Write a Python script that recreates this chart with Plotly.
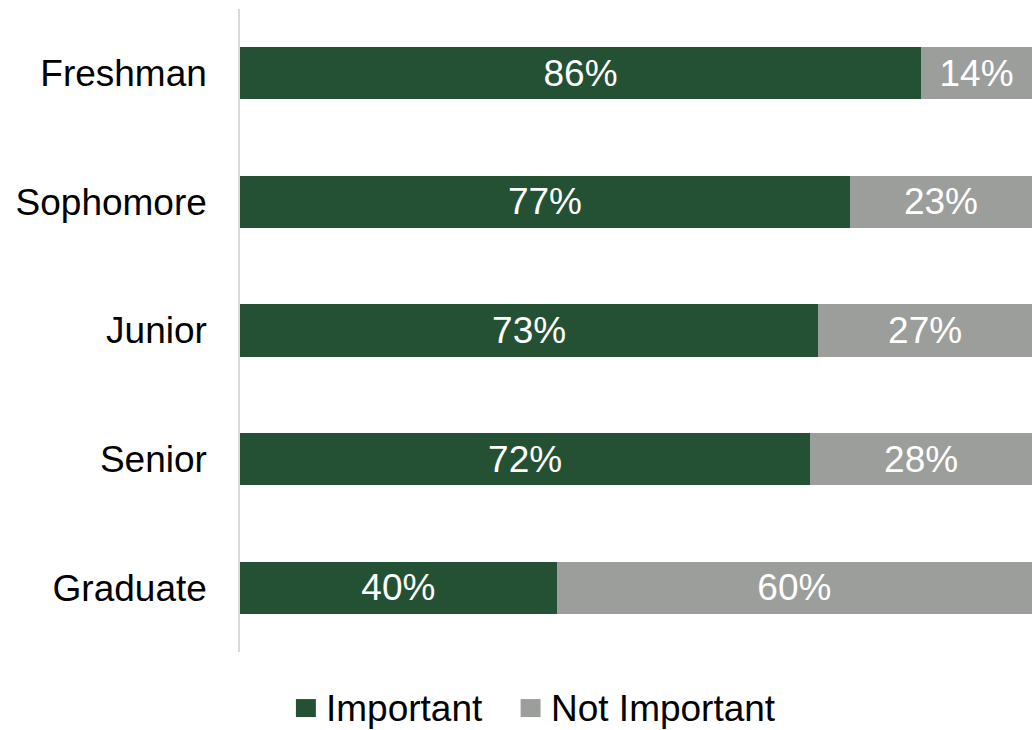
import plotly.graph_objects as go

# Survey responses by class standing
categories = ["Freshman", "Sophomore", "Junior", "Senior", "Graduate"]
important = [86, 77, 73, 72, 40]
not_important = [14, 23, 27, 28, 60]
series_names = ["Important", "Not Important"]
colors = ["#245134", "#9c9e9c"]

FONT = "Liberation Sans, Arial, sans-serif"
FS = 37

fig = go.Figure()
for name, vals, col in zip(series_names, [important, not_important], colors):
    fig.add_trace(go.Bar(
        y=categories,
        x=vals,
        name=name,
        orientation="h",
        marker=dict(color=col, line=dict(width=0)),
        text=[f"{v}%" for v in vals],
        textposition="inside",
        insidetextanchor="middle",
        textangle=0,
        constraintext="none",
        textfont=dict(family=FONT, size=FS, color="#ffffff"),
        showlegend=False,
        hoverinfo="skip",
    ))

# Legend drawn as square swatches with text labels below the plot
legend_items = [(0.0706, 0.0958, 0.1059), (0.3543, 0.3795, 0.3896)]
for (x0, x1, xt), name, col in zip(legend_items, series_names, colors):
    fig.add_shape(type="rect", xref="paper", yref="paper",
                  x0=x0, x1=x1, y0=-0.1012, y1=-0.0732,
                  fillcolor=col, line=dict(width=0))
    fig.add_annotation(xref="paper", yref="paper", x=xt, y=-0.0872,
                       text=name, showarrow=False, xanchor="left", yanchor="middle",
                       font=dict(family=FONT, size=FS, color="#000000"))

fig.update_layout(
    barmode="stack",
    bargap=0.595,
    width=1032,
    height=730,
    margin=dict(l=240, r=0, t=9, b=78),
    plot_bgcolor="#ffffff",
    paper_bgcolor="#ffffff",
    font=dict(family=FONT, size=FS, color="#000000"),
)
fig.update_xaxes(range=[0, 100], showgrid=False, zeroline=False,
                 showticklabels=False, showline=False, fixedrange=True)
fig.update_yaxes(categoryorder="array", categoryarray=categories,
                 autorange="reversed", showgrid=False, zeroline=False,
                 showline=True, linecolor="#d9d9d9", linewidth=1.5,
                 ticks="", ticklabelstandoff=24,
                 tickfont=dict(family=FONT, size=FS, color="#000000"))

fig.write_html("out.html")
